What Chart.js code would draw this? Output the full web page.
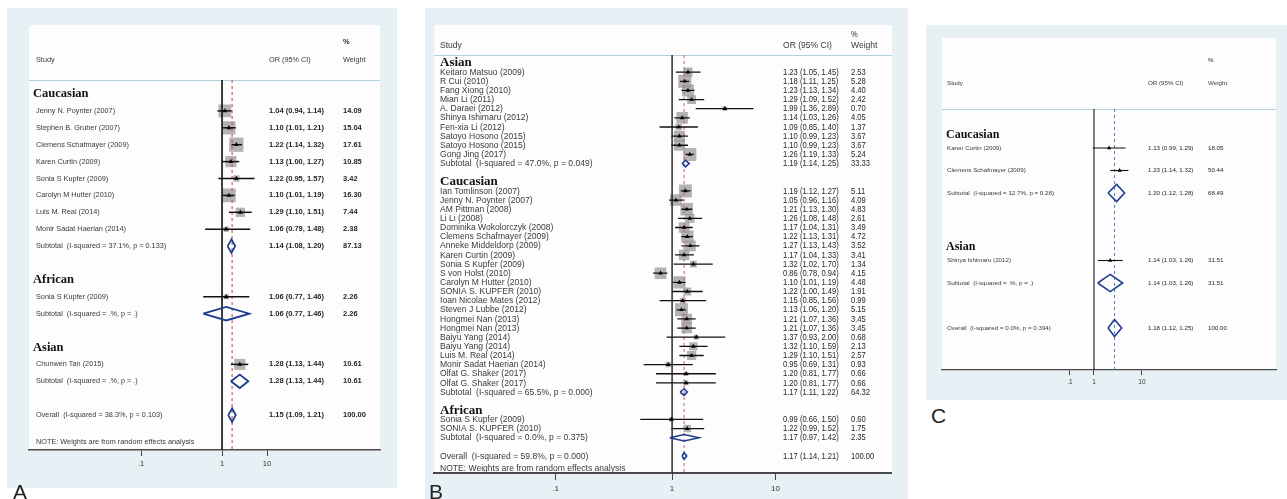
<!DOCTYPE html>
<html>
<head>
<meta charset="utf-8">
<script src="https://cdn.jsdelivr.net/npm/chart.js@4.4.0/dist/chart.umd.min.js"></script>
<style>
  html, body { margin: 0; padding: 0; background: #fff; }
  body { width: 1287px; height: 499px; position: relative; overflow: hidden; font-family: "Liberation Sans", Arial, sans-serif; }
  canvas { position: absolute; }
  .tag { position: absolute; font-size: 21px; line-height: 21px; color: #222; }
</style>
</head>
<body>
<canvas id="plotA"></canvas>
<canvas id="plotB"></canvas>
<canvas id="plotC"></canvas>
<div class="tag" style="left:13px;top:481px">A</div>
<div class="tag" style="left:429px;top:481px">B</div>
<div class="tag" style="left:931px;top:405px">C</div>
<script>
// forest plots A, B, C - OR on log scale, axis in ln(OR)

const SANS = '"Liberation Sans", Arial, sans-serif';
const SERIF = '"Liberation Serif", "Times New Roman", serif';
const axisLabels = ['.1', '1', '10'];

// ---- Panel A ----
const aGroups = ['Caucasian', 'African', 'Asian'];
const aStudy = ['Jenny N. Poynter (2007)', 'Stephen B. Gruber (2007)', 'Clemens Schafmayer (2009)', 'Karen Curtin (2009)',
  'Sonia S Kupfer (2009)', 'Carolyn M Hutter (2010)', 'Luis M. Real (2014)', 'Monir Sadat Haerian (2014)',
  'Sonia S Kupfer (2009)', 'Chunwen Tan (2015)'];
const aGroupOf = [0, 0, 0, 0, 0, 0, 0, 0, 1, 2];
const aOR = [1.04, 1.10, 1.22, 1.13, 1.22, 1.10, 1.29, 1.06, 1.06, 1.28];
const aLow = [0.94, 1.01, 1.14, 1.00, 0.95, 1.01, 1.10, 0.79, 0.77, 1.13];
const aHigh = [1.14, 1.21, 1.32, 1.27, 1.57, 1.19, 1.51, 1.48, 1.46, 1.44];
const aWeight = [14.09, 15.04, 17.61, 10.85, 3.42, 16.30, 7.44, 2.38, 2.26, 10.61];
const aSubOR = [1.14, 1.06, 1.28];
const aSubLow = [1.08, 0.77, 1.13];
const aSubHigh = [1.20, 1.46, 1.44];
const aSubWeight = [87.13, 2.26, 10.61];
const aSubI2 = ['37.1%', '.%', '.%'];
const aSubP = ['0.133', '.', '.'];
const aAll = [1.15, 1.09, 1.21];
const aAllStat = ['38.3%', '0.103'];
const aTickAt = [-1.125, 0, 0.625];

// ---- Panel B ----
const bGroups = ['Asian', 'Caucasian', 'African'];
const bStudy = ['Keitaro Matsuo (2009)', 'R Cui (2010)', 'Fang Xiong (2010)', 'Mian Li (2011)', 'A. Daraei (2012)',
  'Shinya Ishimaru (2012)', 'Fen-xia Li (2012)', 'Satoyo Hosono (2015)', 'Satoyo Hosono (2015)', 'Gong Jing (2017)',
  'Ian Tomlinson (2007)', 'Jenny N. Poynter (2007)', 'AM Pittman (2008)', 'Li Li (2008)', 'Dominika Wokolorczyk (2008)',
  'Clemens Schafmayer (2009)', 'Anneke Middeldorp (2009)', 'Karen Curtin (2009)', 'Sonia S Kupfer (2009)', 'S von Holst (2010)',
  'Carolyn M Hutter (2010)', 'SONIA S. KUPFER (2010)', 'Ioan Nicolae Mates (2012)', 'Steven J Lubbe (2012)', 'Hongmei Nan (2013)',
  'Hongmei Nan (2013)', 'Baiyu Yang (2014)', 'Baiyu Yang (2014)', 'Luis M. Real (2014)', 'Monir Sadat Haerian (2014)',
  'Olfat G. Shaker (2017)', 'Olfat G. Shaker (2017)',
  'Sonia S Kupfer (2009)', 'SONIA S. KUPFER (2010)'];
const bGroupOf = [0, 0, 0, 0, 0, 0, 0, 0, 0, 0,
  1, 1, 1, 1, 1, 1, 1, 1, 1, 1, 1, 1, 1, 1, 1, 1, 1, 1, 1, 1, 1, 1,
  2, 2];
const bOR = [1.23, 1.18, 1.23, 1.29, 1.99, 1.14, 1.09, 1.10, 1.10, 1.26,
  1.19, 1.05, 1.21, 1.26, 1.17, 1.22, 1.27, 1.17, 1.32, 0.86, 1.10, 1.22, 1.15, 1.13, 1.21, 1.21, 1.37, 1.32, 1.29, 0.95, 1.20, 1.20,
  0.99, 1.22];
const bLow = [1.05, 1.11, 1.13, 1.09, 1.36, 1.03, 0.85, 0.99, 0.99, 1.19,
  1.12, 0.96, 1.13, 1.08, 1.04, 1.13, 1.13, 1.04, 1.02, 0.78, 1.01, 1.00, 0.85, 1.06, 1.07, 1.07, 0.93, 1.10, 1.10, 0.69, 0.81, 0.81,
  0.66, 0.99];
const bHigh = [1.45, 1.25, 1.34, 1.52, 2.89, 1.26, 1.40, 1.23, 1.23, 1.33,
  1.27, 1.16, 1.30, 1.48, 1.31, 1.31, 1.43, 1.33, 1.70, 0.94, 1.19, 1.49, 1.56, 1.20, 1.36, 1.36, 2.00, 1.59, 1.51, 1.31, 1.77, 1.77,
  1.50, 1.52];
const bWeight = [2.53, 5.28, 4.40, 2.42, 0.70, 4.05, 1.37, 3.67, 3.67, 5.24,
  5.11, 4.09, 4.83, 2.61, 3.49, 4.72, 3.52, 3.41, 1.34, 4.15, 4.48, 1.91, 0.99, 5.15, 3.45, 3.45, 0.68, 2.13, 2.57, 0.93, 0.66, 0.66,
  0.60, 1.75];
const bSubOR = [1.19, 1.17, 1.17];
const bSubLow = [1.14, 1.11, 0.97];
const bSubHigh = [1.25, 1.22, 1.42];
const bSubWeight = [33.33, 64.32, 2.35];
const bSubI2 = ['47.0%', '65.5%', '0.0%'];
const bSubP = ['0.049', '0.000', '0.375'];
const bAll = [1.17, 1.14, 1.21];
const bAllStat = ['59.8%', '0.000'];
const bTickAt = [-1.52, 0, 1.35];

// ---- Panel C ----
const cGroups = ['Caucasian', 'Asian'];
const cStudy = ['Karen Curtin (2009)', 'Clemens Schafmayer (2009)', 'Shinya Ishimaru (2012)'];
const cGroupOf = [0, 0, 1];
const cOR = [1.13, 1.23, 1.14];
const cLow = [0.99, 1.14, 1.03];
const cHigh = [1.29, 1.32, 1.26];
const cWeight = [18.05, 50.44, 31.51];
const cSubOR = [1.20, 1.14];
const cSubLow = [1.12, 1.03];
const cSubHigh = [1.28, 1.26];
const cSubWeight = [68.49, 31.51];
const cSubI2 = ['12.7%', '.%'];
const cSubP = ['0.28', '.'];
const cAll = [1.18, 1.12, 1.25];
const cAllStat = ['0.0%', '0.394'];
const cTickAt = [-0.194, 0, 0.387];

// layout / style of each panel (canvas px)
const layA = { left: 7, top: 8, w: 390, h: 480, innerTop: 17, padL: 22, padR: 17, padT: 72, padB: 8, axisH: 30,
  row0: 86, step: 16.9, xMin: -2.681, xMax: 2.194, headShift: 0, noteShift: 1.6, note: true,
  colStudy: 29, colHead: 26, colOR: 262, colW: 336, pctY: 34, hdrY: 52,
  fStudy: 7.3, fNum: 7.5, numWeight: 'bold', fHead: 12.5, sxStudy: 1, sxNum: 1,
  box: 3.4, boxColor: 'rgba(150,150,150,0.72)', tri: 2.7, ciW: 1.5, dia: 0.4, diaW: 1.8, nullW: 1.7, axisW: 1.6,
  dashColor: '#c9505a', tickFont: 7.5, tickLen: 6, tickPad: 3 };
const layB = { left: 425, top: 8, w: 483, h: 491, innerTop: 17, padL: 7, padR: 16, padT: 47, padB: 2, axisH: 24,
  row0: 55, step: 9.14, xMin: -3.104, xMax: 2.870, headShift: 0, noteShift: 1.3, note: true,
  colStudy: 15, colHead: 15, colOR: 358, colW: 426, pctY: 26, hdrY: 37,
  fStudy: 9.5, fNum: 9.5, numWeight: 'normal', fHead: 13, sxStudy: 0.9, sxNum: 0.8,
  box: 5.7, boxColor: 'rgba(150,150,150,0.72)', tri: 2.6, ciW: 1.3, dia: 0.36, diaW: 1.6, nullW: 1.4, axisW: 2,
  dashColor: '#d06a78', tickFont: 8, tickLen: 7, tickPad: 4 };
const layC = { left: 926, top: 25, w: 361, h: 375, innerTop: 13, padL: 16, padR: 11, padT: 84, padB: 6, axisH: 24,
  row0: 100.5, step: 22.5, xMin: -1.226, xMax: 1.468, headShift: 0.4, noteShift: 0, note: false,
  colStudy: 21, colHead: 20, colOR: 222, colW: 282, pctY: 35, hdrY: 58,
  fStudy: 6.2, fNum: 6.2, numWeight: 'normal', fHead: 12, sxStudy: 1, sxNum: 1,
  box: 0, boxColor: 'rgba(150,150,150,0.5)', tri: 2.4, ciW: 1.1, dia: 0.38, diaW: 1.6, nullW: 1.1, axisW: 1.3,
  dashColor: '#5a86c8', tickFont: 6.5, tickLen: 5, tickPad: 3 };

const dataA = { groups: aGroups, names: aStudy, groupOf: aGroupOf, or: aOR, lo: aLow, hi: aHigh, w: aWeight,
  subOR: aSubOR, subLo: aSubLow, subHi: aSubHigh, subW: aSubWeight, subI2: aSubI2, subP: aSubP,
  all: aAll, allStat: aAllStat, tickAt: aTickAt };
const dataB = { groups: bGroups, names: bStudy, groupOf: bGroupOf, or: bOR, lo: bLow, hi: bHigh, w: bWeight,
  subOR: bSubOR, subLo: bSubLow, subHi: bSubHigh, subW: bSubWeight, subI2: bSubI2, subP: bSubP,
  all: bAll, allStat: bAllStat, tickAt: bTickAt };
const dataC = { groups: cGroups, names: cStudy, groupOf: cGroupOf, or: cOR, lo: cLow, hi: cHigh, w: cWeight,
  subOR: cSubOR, subLo: cSubLow, subHi: cSubHigh, subW: cSubWeight, subI2: cSubI2, subP: cSubP,
  all: cAll, allStat: cAllStat, tickAt: cTickAt };

// one row per line of the plot: group header, studies, subtotal, blank, ... overall
function rowsFor(d, shift) {
    const rows = [];
    let r = 0;
    d.groups.forEach((g, gi) => {
        rows.push({ kind: 'head', text: g, r: r + shift });
        r++;
        d.or.forEach((v, i) => {
            if (d.groupOf[i] === gi) { rows.push({ kind: 'study', i: i, r: r }); r++; }
        });
        rows.push({ kind: 'sub', i: gi, r: r });
        r += 2;
    });
    rows.push({ kind: 'all', r: r });
    return rows;
}

function txt(ctx, s, x, y, font, color, sx) {
    ctx.save();
    ctx.font = font;
    ctx.fillStyle = color;
    ctx.textBaseline = 'middle';
    ctx.textAlign = 'left';
    ctx.translate(x, y);
    ctx.scale(sx || 1, 1);
    ctx.fillText(s, 0, 0);
    ctx.restore();
}

function ciText(or, lo, hi) {
    return `${or.toFixed(2)} (${lo.toFixed(2)}, ${hi.toFixed(2)})`;
}

function makeForest(canvasId, d, L) {
    const cv = document.getElementById(canvasId);
    cv.width = L.w; cv.height = L.h;
    cv.style.left = L.left + 'px'; cv.style.top = L.top + 'px';
    cv.style.width = L.w + 'px'; cv.style.height = L.h + 'px';

    const ln = Math.log;
    const rows = rowsFor(d, L.headShift);
    const chartTop = L.padT;
    const chartBot = L.h - L.padB - L.axisH;
    const yMin = (chartTop - L.row0) / L.step;
    const yMax = (chartBot - L.row0) / L.step;
    const studyRows = rows.filter(o => o.kind === 'study');
    const allRow = rows.find(o => o.kind === 'all');

    const ds = [];
    if (L.box > 0) {
        ds.push({
            type: 'scatter', order: 6,
            data: studyRows.map(o => ({ x: ln(d.or[o.i]), y: o.r, s: L.box * Math.sqrt(d.w[o.i]) * Math.SQRT1_2 })),
            pointStyle: 'rect',
            pointRadius: c => (c.raw ? c.raw.s : 0),
            backgroundColor: L.boxColor, borderWidth: 0
        });
    }
    // null line and overall estimate line
    ds.push({ type: 'line', order: 5, data: [{ x: 0, y: yMin }, { x: 0, y: yMax }],
        borderColor: '#1c1c1c', borderWidth: L.nullW, pointRadius: 0 });
    ds.push({ type: 'line', order: 5, data: [{ x: ln(d.all[0]), y: yMin }, { x: ln(d.all[0]), y: yMax }],
        borderColor: L.dashColor, borderWidth: 1.1, borderDash: [3, 3], pointRadius: 0 });
    // confidence intervals
    studyRows.forEach(o => {
        ds.push({ type: 'line', order: 3, data: [{ x: ln(d.lo[o.i]), y: o.r }, { x: ln(d.hi[o.i]), y: o.r }],
            borderColor: '#111', borderWidth: L.ciW, pointRadius: 0 });
    });
    // point estimates
    ds.push({ type: 'scatter', order: 1, data: studyRows.map(o => ({ x: ln(d.or[o.i]), y: o.r })),
        pointStyle: 'triangle', pointRadius: L.tri, backgroundColor: '#000', borderWidth: 0 });
    // diamonds
    const diamond = (est, lo, hi, r) => [
        { x: ln(lo), y: r }, { x: ln(est), y: r - L.dia }, { x: ln(hi), y: r },
        { x: ln(est), y: r + L.dia }, { x: ln(lo), y: r }];
    rows.forEach(o => {
        if (o.kind === 'sub') {
            ds.push({ type: 'line', order: 2, data: diamond(d.subOR[o.i], d.subLo[o.i], d.subHi[o.i], o.r),
                borderColor: '#1d3d8f', borderWidth: L.diaW, pointRadius: 0 });
        }
    });
    ds.push({ type: 'line', order: 2, data: diamond(d.all[0], d.all[1], d.all[2], allRow.r),
        borderColor: '#1d3d8f', borderWidth: L.diaW, pointRadius: 0 });

    const deco = {
        id: 'deco_' + canvasId,
        beforeDraw(chart) {
            const c = chart.ctx, a = chart.chartArea;
            c.save();
            c.fillStyle = '#e7f0f4';
            c.fillRect(0, 0, L.w, L.h);
            c.fillStyle = '#fdfdfd';
            c.fillRect(a.left, L.innerTop, a.right - a.left, a.bottom - L.innerTop);
            c.strokeStyle = '#b5d0dd';
            c.lineWidth = 1;
            c.beginPath();
            c.moveTo(a.left, a.top + 0.5);
            c.lineTo(a.right, a.top + 0.5);
            c.stroke();
            c.restore();
        },
        afterDraw(chart) {
            const c = chart.ctx;
            const y = v => chart.scales.y.getPixelForValue(v);
            const fS = `${L.fStudy}px ${SANS}`;
            const fN = `${L.numWeight} ${L.fNum}px ${SANS}`;
            const fH = `bold ${L.fHead}px ${SERIF}`;
            const grey = '#3a3a3a', dark = '#262626';
            // column headings
            txt(c, '%', L.colW, L.pctY, fN, dark, L.sxNum);
            txt(c, 'Study', L.colStudy, L.hdrY, fS, grey, L.sxStudy);
            txt(c, 'OR (95% CI)', L.colOR, L.hdrY, fS, grey, L.sxStudy);
            txt(c, 'Weight', L.colW, L.hdrY, fS, grey, L.sxStudy);
            rows.forEach(o => {
                const py = y(o.r);
                if (o.kind === 'head') {
                    txt(c, o.text, L.colHead, py, fH, '#111', 1);
                } else if (o.kind === 'study') {
                    txt(c, d.names[o.i], L.colStudy, py, fS, grey, L.sxStudy);
                    txt(c, ciText(d.or[o.i], d.lo[o.i], d.hi[o.i]), L.colOR, py, fN, dark, L.sxNum);
                    txt(c, d.w[o.i].toFixed(2), L.colW, py, fN, dark, L.sxNum);
                } else if (o.kind === 'sub') {
                    txt(c, `Subtotal  (I-squared = ${d.subI2[o.i]}, p = ${d.subP[o.i]})`, L.colStudy, py, fS, grey, L.sxStudy);
                    txt(c, ciText(d.subOR[o.i], d.subLo[o.i], d.subHi[o.i]), L.colOR, py, fN, dark, L.sxNum);
                    txt(c, d.subW[o.i].toFixed(2), L.colW, py, fN, dark, L.sxNum);
                } else if (o.kind === 'all') {
                    txt(c, `Overall  (I-squared = ${d.allStat[0]}, p = ${d.allStat[1]})`, L.colStudy, py, fS, grey, L.sxStudy);
                    txt(c, ciText(d.all[0], d.all[1], d.all[2]), L.colOR, py, fN, dark, L.sxNum);
                    txt(c, (100).toFixed(2), L.colW, py, fN, dark, L.sxNum);
                    if (L.note) {
                        txt(c, 'NOTE: Weights are from random effects analysis', L.colStudy, y(o.r + L.noteShift), fS, grey, L.sxStudy);
                    }
                }
            });
        }
    };

    return new Chart(cv, {
        type: 'scatter',
        data: { datasets: ds },
        options: {
            responsive: false,
            animation: false,
            devicePixelRatio: 1,
            events: [],
            layout: { padding: { left: L.padL, right: L.padR, top: L.padT, bottom: L.padB } },
            plugins: { legend: { display: false }, tooltip: { enabled: false } },
            scales: {
                x: {
                    type: 'linear', min: L.xMin, max: L.xMax,
                    afterBuildTicks: s => { s.ticks = d.tickAt.map(v => ({ value: v })); },
                    afterFit: s => { s.height = L.axisH; },
                    ticks: {
                        callback: (v, i) => axisLabels[i],
                        font: { size: L.tickFont, family: SANS }, color: '#333',
                        padding: L.tickPad, maxRotation: 0, autoSkip: false
                    },
                    grid: { display: true, drawOnChartArea: false, drawTicks: true, tickLength: L.tickLen, color: '#444', lineWidth: 1 },
                    border: { display: true, color: '#4a4a4a', width: L.axisW }
                },
                y: { type: 'linear', reverse: true, min: yMin, max: yMax, display: false }
            }
        },
        plugins: [deco]
    });
}

makeForest('plotA', dataA, layA);
makeForest('plotB', dataB, layB);
makeForest('plotC', dataC, layC);
</script>
</body>
</html>
